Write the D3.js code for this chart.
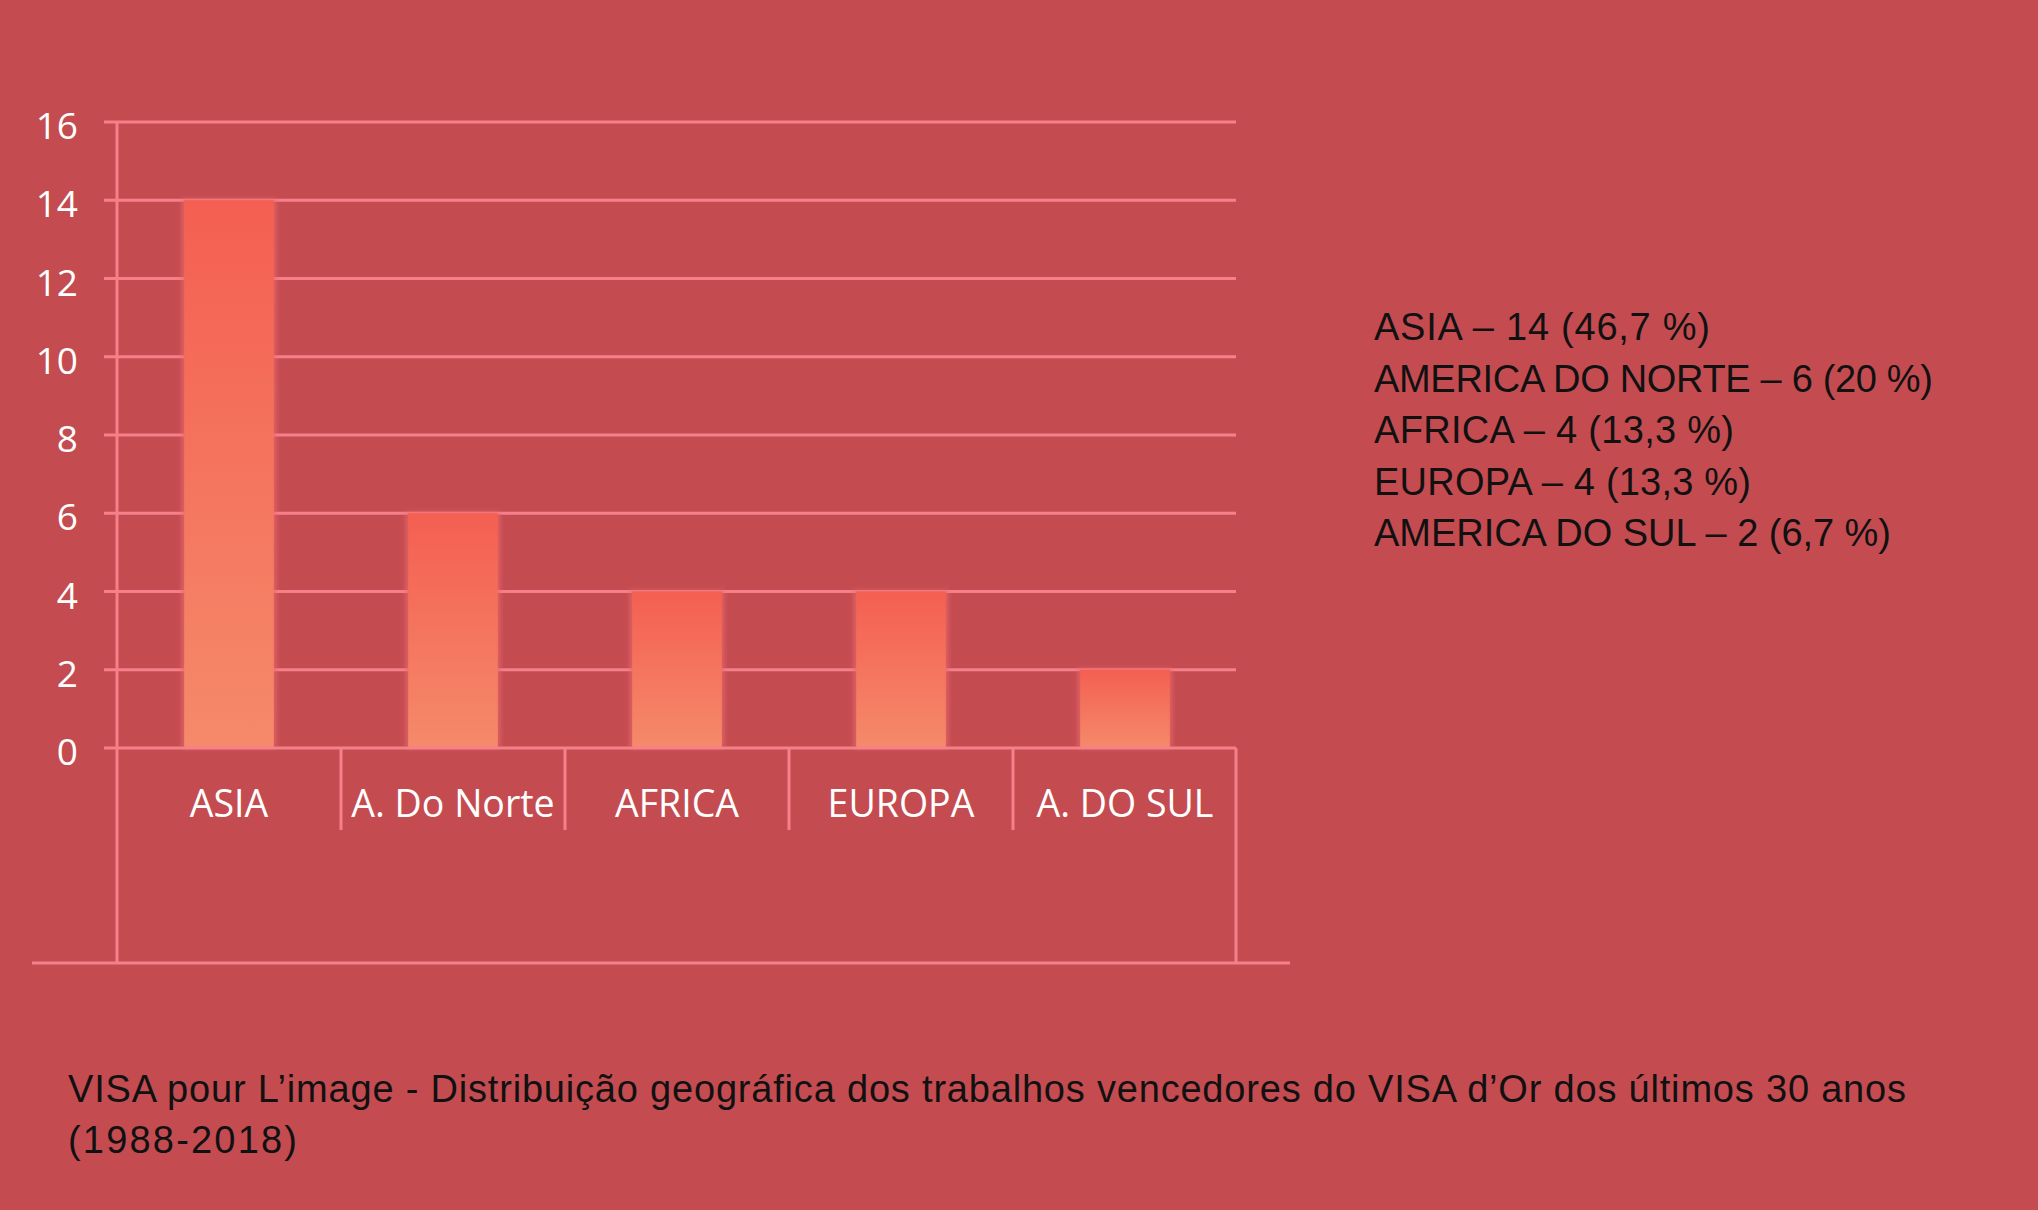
<!DOCTYPE html>
<html><head><meta charset="utf-8">
<script src="https://cdn.jsdelivr.net/npm/d3@7"></script>
<style>
html,body{margin:0;padding:0;background:#C44C51;}
svg{display:block;}
</style></head>
<body>
<svg id="c" width="2038" height="1210"></svg>
<script>
const categories = ["ASIA", "A. Do Norte", "AFRICA", "EUROPA", "A. DO SUL"];
const values = [14, 6, 4, 4, 2];
const yTicks = [0, 2, 4, 6, 8, 10, 12, 14, 16];
const legendLines = [
  "ASIA \u2013 14 (46,7 %)",
  "AMERICA DO NORTE \u2013 6 (20 %)",
  "AFRICA \u2013 4 (13,3 %)",
  "EUROPA \u2013 4 (13,3 %)",
  "AMERICA DO SUL \u2013 2 (6,7 %)"
];
const legendWidths = [336, 559, 360, 377, 517];
const captionLines = [
  "VISA pour L\u2019image - Distribui\u00e7\u00e3o geogr\u00e1fica dos trabalhos vencedores do VISA d\u2019Or dos \u00faltimos 30 anos",
  "(1988-2018)"
];
const captionWidths = [1838, 229];

(function () {
const svg = d3.select("#c");
const W = 2038, H = 1210;
svg.append("rect").attr("width", W).attr("height", H).attr("fill", "#C44C51");

const pLeft = 117, pRight = 1237, pTop = 122, pBase = 748, pBottom = 963;
const lineColor = "#F5808A";
const x = d3.scaleBand().domain(categories).range([pLeft, pRight]).padding(0);
const y = d3.scaleLinear().domain([0, 16]).range([pBase, pTop]);

const defs = svg.append("defs");
const grad = defs.append("linearGradient").attr("id", "bg").attr("x1", 0).attr("y1", 0).attr("x2", 0).attr("y2", 1);
grad.append("stop").attr("offset", "0%").attr("stop-color", "#F45F51");
grad.append("stop").attr("offset", "100%").attr("stop-color", "#F58A6A");
const blur = defs.append("filter").attr("id", "glow").attr("x", "-20%").attr("y", "-20%").attr("width", "140%").attr("height", "140%");
blur.append("feGaussianBlur").attr("stdDeviation", 2.5);

// gridlines
svg.append("g").selectAll("line").data(yTicks.filter(d => d > 0)).join("line")
  .attr("x1", 104).attr("x2", pRight - 1)
  .attr("y1", d => y(d)).attr("y2", d => y(d))
  .attr("stroke", lineColor).attr("stroke-width", 3);

// bars
const bw = x.bandwidth() * 0.4;
const bars = svg.append("g");
bars.selectAll("rect.glow").data(values).join("rect").attr("class", "glow")
  .attr("x", (d, i) => x(categories[i]) + (x.bandwidth() - bw) / 2 - 2)
  .attr("y", d => y(d) - 1)
  .attr("width", bw + 4)
  .attr("height", d => pBase - y(d) + 1)
  .attr("fill", "#EC6A6C").attr("opacity", 0.8).attr("filter", "url(#glow)");
bars.selectAll("rect.bar").data(values).join("rect").attr("class", "bar")
  .attr("x", (d, i) => x(categories[i]) + (x.bandwidth() - bw) / 2)
  .attr("y", d => y(d))
  .attr("width", bw)
  .attr("height", d => pBase - y(d))
  .attr("fill", "url(#bg)");

// baseline and axes
const g = svg.append("g").attr("stroke", lineColor).attr("stroke-width", 3);
g.append("line").attr("x1", 104).attr("x2", pRight - 1).attr("y1", pBase).attr("y2", pBase);
g.append("line").attr("x1", pLeft).attr("x2", pLeft).attr("y1", pTop).attr("y2", pBottom);
g.append("line").attr("x1", pRight - 1).attr("x2", pRight - 1).attr("y1", pBase).attr("y2", pBottom);
g.append("line").attr("x1", 32).attr("x2", 1290).attr("y1", pBottom).attr("y2", pBottom);
g.selectAll("line.sep").data(categories.slice(1)).join("line").attr("class", "sep")
  .attr("x1", d => x(d)).attr("x2", d => x(d)).attr("y1", pBase).attr("y2", 830);

// y tick labels
svg.append("g").selectAll("text").data(yTicks).join("text")
  .attr("x", 78).attr("y", d => y(d) + 17)
  .attr("text-anchor", "end")
  .attr("font-family", "Open Sans, sans-serif").attr("font-size", 37)
  .attr("fill", "#FFFFFF").text(d => d);

// category labels
svg.append("g").selectAll("text").data(categories).join("text")
  .attr("x", d => x(d) + x.bandwidth() / 2).attr("y", 817)
  .attr("text-anchor", "middle")
  .attr("font-family", "Open Sans, sans-serif").attr("font-size", 37.5)
  .attr("fill", "#FFFFFF").text(d => d);

// legend text
svg.append("g").selectAll("text").data(legendLines).join("text")
  .attr("x", 1374).attr("y", (d, i) => 340 + i * 51.5)
  .attr("font-family", "Liberation Sans Narrow, Arial Narrow, sans-serif").attr("font-size", 38)
  .attr("textLength", (d, i) => legendWidths[i]).attr("lengthAdjust", "spacing")
  .attr("fill", "#111").text(d => d);

// caption
svg.append("g").selectAll("text").data(captionLines).join("text")
  .attr("x", 68).attr("y", (d, i) => 1102 + i * 51)
  .attr("font-family", "Liberation Sans Narrow, Arial Narrow, sans-serif").attr("font-size", 38)
  .attr("textLength", (d, i) => captionWidths[i]).attr("lengthAdjust", "spacing")
  .attr("fill", "#111").text(d => d);
})();
</script>
</body></html>
